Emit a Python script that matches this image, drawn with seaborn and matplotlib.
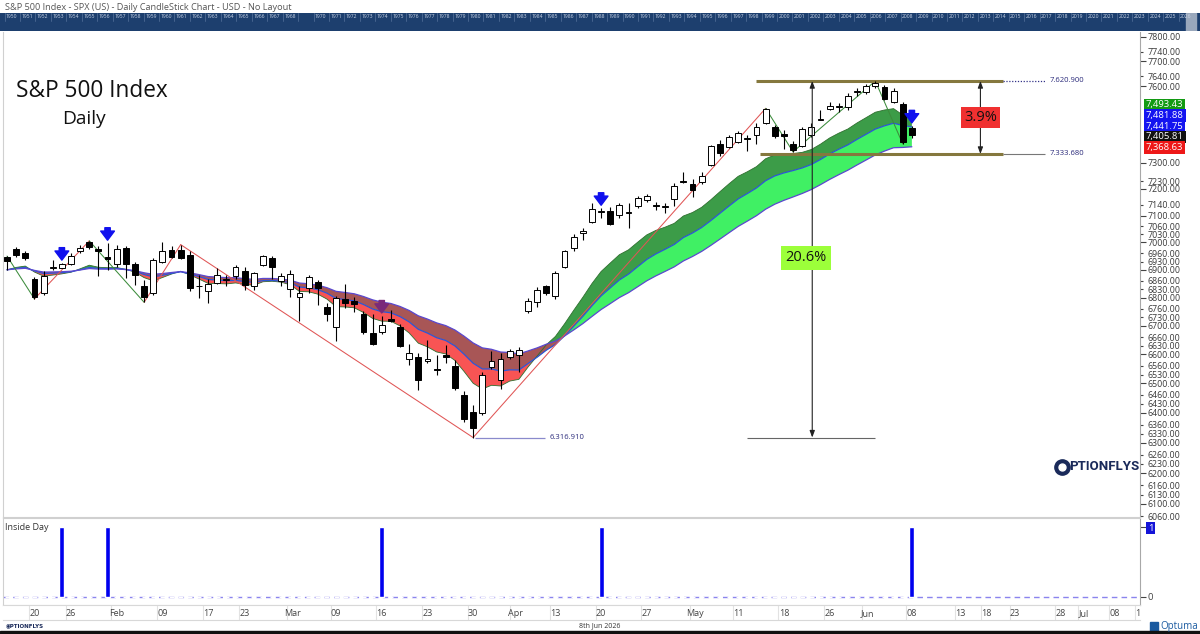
import numpy as np
import pandas as pd
import matplotlib
matplotlib.use("Agg")
import matplotlib.pyplot as plt
import seaborn as sns
from matplotlib.ticker import FixedLocator, FuncFormatter
from matplotlib.lines import Line2D
from matplotlib.patches import Rectangle

# ---------------- data ----------------
opens = [6945, 6976, 6961, 6867, 6815, 6908, 6908, 6922, 6967, 7001,
         6976, 6947, 6920, 6981, 6920, 6843, 6815, 6929, 6972, 6974,
         6955, 6843, 6822, 6853, 6863, 6877, 6897, 6841, 6918, 6943,
         6858, 6830, 6803, 6833, 6855, 6767, 6697, 6794, 6788, 6741,
         6675, 6677, 6723, 6697, 6585, 6592, 6578, 6550, 6598, 6560,
         6460, 6404, 6400, 6556, 6512, 6590, 6598, 6753, 6785, 6840,
         6805, 6909, 6979, 7036, 7077, 7112, 7118, 7101, 7108, 7134,
         7157, 7140, 7133, 7162, 7229, 7218, 7227, 7292, 7373, 7360,
         7382, 7393, 7408, 7454, 7440, 7410, 7373, 7365, 7408, 7467,
         7508, 7519, 7516, 7576, 7578, 7599, 7598, 7539, 7531, 7434]
highs = [6950, 6982, 6969, 6873, 6894, 6935, 6925, 6962, 6990, 7006,
         6988, 6998, 6992, 6988, 6928, 6863, 6943, 7000, 6986, 6992,
         6970, 6882, 6868, 6906, 6882, 6918, 6910, 6893, 6955, 6950,
         6890, 6900, 6840, 6881, 6863, 6780, 6805, 6848, 6803, 6752,
         6740, 6735, 6755, 6705, 6637, 6603, 6648, 6598, 6632, 6580,
         6472, 6426, 6537, 6612, 6603, 6620, 6626, 6797, 6838, 6846,
         6894, 6972, 7031, 7052, 7147, 7128, 7133, 7146, 7146, 7175,
         7180, 7149, 7147, 7223, 7265, 7238, 7265, 7370, 7386, 7409,
         7424, 7408, 7456, 7512, 7448, 7428, 7383, 7438, 7455, 7504,
         7538, 7534, 7571, 7592, 7609, 7620.9, 7605, 7592, 7538, 7444]
lows = [6900, 6948, 6935, 6795, 6810, 6898, 6905, 6918, 6960, 6975,
        6876, 6900, 6912, 6870, 6846, 6783, 6808, 6925, 6942, 6940,
        6824, 6798, 6780, 6848, 6843, 6868, 6826, 6826, 6915, 6867,
        6840, 6803, 6715, 6815, 6774, 6715, 6645, 6762, 6750, 6672,
        6631, 6672, 6714, 6626, 6562, 6478, 6568, 6528, 6570, 6478,
        6370, 6316.91, 6392, 6550, 6480, 6583, 6540, 6745, 6767, 6808,
        6794, 6905, 6970, 7010, 7073, 7090, 7063, 7092, 7053, 7127,
        7150, 7120, 7110, 7134, 7222, 7170, 7218, 7286, 7327, 7355,
        7376, 7344, 7373, 7452, 7395, 7353, 7342, 7360, 7400, 7465,
        7504, 7499, 7504, 7561, 7570, 7592, 7545, 7535, 7373, 7396]
closes = [6932, 6955, 6943, 6803, 6876, 6910, 6920, 6952, 6981, 6982,
          6968, 6940, 6977, 6920, 6882, 6803, 6936, 6967, 6946, 6943,
          6833, 6840, 6850, 6881, 6866, 6909, 6845, 6888, 6949, 6911,
          6877, 6884, 6817, 6873, 6836, 6741, 6797, 6782, 6776, 6677,
          6634, 6702, 6717, 6629, 6604, 6511, 6585, 6546, 6592, 6484,
          6380, 6350, 6528, 6578, 6585, 6613, 6616, 6788, 6827, 6815,
          6888, 6969, 7022, 7042, 7123, 7116, 7070, 7138, 7112, 7165,
          7174, 7136, 7137, 7210, 7226, 7197, 7250, 7365, 7338, 7399,
          7414, 7397, 7440, 7508, 7404, 7402, 7350, 7430, 7440, 7470,
          7520, 7522, 7562, 7579, 7601, 7612, 7551, 7582, 7382, 7405.81]

inside_day_idx = [6, 11, 41, 65, 99]

zigzag_idx = [0, 3, 9, 15, 19, 51, 83, 86, 95, 98]
zigzag_kind = ['H', 'L', 'H', 'L', 'H', 'L', 'H', 'L', 'H', 'L']
zigzag_colors = ['#3c8c3c', '#e05555', '#3c8c3c', '#e05555', '#e05555',
                 '#e05555', '#3c8c3c', '#3c8c3c', '#3c8c3c']

# ribbon: three EMAs of the daily lows
ema_fast_span, ema_mid_span, ema_slow_span = 10, 17, 28

date_tick_pos = [3, 7, 12, 17, 22, 26, 31.2, 36, 41, 46, 51, 55.6, 60, 65, 70,
                 75.3, 80, 85, 90, 94.1, 99, 104.3, 107.2, 110.3, 115.3, 117.8,
                 121.2, 124]
date_tick_labels = ['20', '26', 'Feb', '09', '17', '23', 'Mar', '09', '16', '23',
                    '30', 'Apr', '13', '20', '27', 'May', '11', '18', '26', 'Jun',
                    '08', '13', '18', '23', '28', 'Jul', '08', '13']

y_major = [7800, 7700, 7600, 7300, 7200, 7100, 7000, 6900, 6800,
           6700, 6600, 6500, 6400, 6300, 6200, 6100]
y_minor = [7740, 7640, 7230, 7140, 7060, 7030, 6960, 6930,
           6860, 6830, 6760, 6730, 6660, 6630, 6560, 6530, 6460, 6430, 6360,
           6330, 6260, 6230, 6160, 6130, 6060]

level_high = 7620.9
level_mid = 7333.68
level_low = 6316.91
pct_big = "20.6%"
pct_small = "3.9%"

box_values = [7493.43, 7481.88, 7441.75, 7405.81, 7368.63]
box_colors = ['#139a13', '#1414f0', '#1414f0', '#111111', '#ee1818']

header_title = "S&P 500 Index - SPX (US) - Daily CandleStick Chart - USD - No Layout"
years = list(range(1950, 2027))

# ---------------- figure ----------------
sns.set_theme(style="white")
plt.rcParams['font.family'] = ['Open Sans', 'DejaVu Sans']

W, H = 1200, 634
fig = plt.figure(figsize=(W / 100, H / 100), dpi=100)
fig.patch.set_facecolor('white')


def rect(x0, y0, x1, y1):
    return [x0 / W, 1 - y1 / H, (x1 - x0) / W, (y1 - y0) / H]


def fx(x):
    return x / W


def fy(y):
    return 1 - y / H


XLIM = (-0.44, 123.96)

o = np.array(opens, float)
h = np.array(highs, float)
l = np.array(lows, float)
c = np.array(closes, float)
idx = np.arange(len(c))

# ---------------- main price panel ----------------
ax = fig.add_axes(rect(3, 32, 1140, 517))
ax.set_facecolor('white')
ax.set_yscale('log')
ax.set_xlim(*XLIM)
ax.set_ylim(6058.2, 7820)

low_s = pd.Series(l)
ema_a = low_s.ewm(span=ema_fast_span, adjust=False).mean().to_numpy()
ema_b = low_s.ewm(span=ema_mid_span, adjust=False).mean().to_numpy()
ema_c = low_s.ewm(span=ema_slow_span, adjust=False).mean().to_numpy()

ax.fill_between(idx, ema_a, ema_b, where=ema_a >= ema_b, interpolate=True,
                color='#3c9c48', lw=0, zorder=1)
ax.fill_between(idx, ema_a, ema_b, where=ema_a < ema_b, interpolate=True,
                color='#f85454', lw=0, zorder=1)
ax.fill_between(idx, ema_b, ema_c, where=ema_b >= ema_c, interpolate=True,
                color='#40f064', lw=0, zorder=1)
ax.fill_between(idx, ema_b, ema_c, where=ema_b < ema_c, interpolate=True,
                color='#a85656', lw=0, zorder=1)
sns.lineplot(x=idx, y=ema_a, ax=ax, color='#2f6f2f', linewidth=0.6, zorder=1.2)
sns.lineplot(x=idx, y=ema_b, ax=ax, color='#2c55d6', linewidth=0.9, zorder=1.2)
sns.lineplot(x=idx, y=ema_c, ax=ax, color='#5a48cf', linewidth=0.9, zorder=1.2)

# zigzag
zz_vals = [h[i] if k == 'H' else l[i] for i, k in zip(zigzag_idx, zigzag_kind)]
for k in range(len(zigzag_idx) - 1):
    ax.plot(zigzag_idx[k:k + 2], zz_vals[k:k + 2], color=zigzag_colors[k],
            lw=0.75, zorder=1.6)

# candles
up = c >= o
body_lo = np.minimum(o, c)
body_h = np.maximum(np.abs(c - o), 0.5)
ax.vlines(idx, l, h, color='black', lw=0.8, zorder=2.5)
ax.bar(idx, body_h, bottom=body_lo, width=0.64,
       color=np.where(up, 'white', 'black'), edgecolor='black',
       linewidth=0.7, zorder=3)

# inside-day arrows
for i in inside_day_idx:
    col = '#7a2a7a' if i == 41 else '#1010ee'
    ax.annotate('', xy=(i, h[i]), xytext=(0, 11), textcoords='offset points',
                arrowprops=dict(arrowstyle='simple,head_length=0.6,head_width=0.9,tail_width=0.35',
                                fc=col, ec=col, shrinkA=0, shrinkB=2, mutation_scale=11),
                zorder=4)

# level lines
ax.hlines(level_high, 82, 109, color='#85783e', lw=2.2, zorder=2)
ax.hlines(level_high, 109, 113.6, color='#333388', lw=0.9, ls=(0, (1, 1.3)), zorder=2)
ax.text(114.1, level_high, "7.620.900", fontsize=5.5, color='#2a2a7a', va='center', ha='left')
ax.hlines(level_mid, 82.4, 109, color='#85783e', lw=2.2, zorder=2)
ax.hlines(level_mid, 109, 113.6, color='#777777', lw=0.8, zorder=2)
ax.text(114.1, level_mid, "7.333.680", fontsize=5.5, color='#2a2a7a', va='center', ha='left')
ax.hlines(level_low, 51.2, 58.9, color='#8a8acc', lw=0.9, zorder=2)
ax.text(59.4, level_low, "6.316.910", fontsize=5.5, color='#2a2a7a', va='center', ha='left')
ax.hlines(level_low, 81, 95, color='#666666', lw=0.8, zorder=2)

arrow_kw = dict(arrowstyle='<|-|>,head_length=0.4,head_width=0.15', color='#222222',
                lw=0.8, shrinkA=0, shrinkB=0, mutation_scale=10)
ax.annotate('', xy=(88.1, level_high), xytext=(88.1, level_low), arrowprops=arrow_kw, zorder=4)
ax.annotate('', xy=(106.5, level_high), xytext=(106.5, level_mid), arrowprops=arrow_kw, zorder=4)
ax.text(87.4, 6943, pct_big, ha='center', va='center', fontsize=10.5, color='#111111',
        bbox=dict(boxstyle='square,pad=0.28', fc='#9cff3a', ec='none'), zorder=5)
ax.text(106.5, 7477, pct_small, ha='center', va='center', fontsize=10.5, color='#111111',
        bbox=dict(boxstyle='square,pad=0.2', fc='#f03030', ec='none'), zorder=5)

# titles
ax.text(0.011, 0.878, "S&P 500 Index", transform=ax.transAxes, fontsize=16.3,
        color='#111111', ha='left', va='center')
ax.text(0.052, 0.82, "Daily", transform=ax.transAxes, fontsize=13.8,
        color='#111111', ha='left', va='center')

# y axis (right)
fmt = FuncFormatter(lambda v, p: f"{v:.2f}")
ax.yaxis.tick_right()
ax.yaxis.set_major_locator(FixedLocator(y_major))
ax.yaxis.set_minor_locator(FixedLocator(y_minor))
ax.yaxis.set_major_formatter(fmt)
ax.yaxis.set_minor_formatter(fmt)
ax.tick_params(axis='y', which='major', length=4, width=0.8, colors='#444444',
               labelsize=6.4, pad=1.5, labelcolor='#3a3a3a')
ax.tick_params(axis='y', which='minor', length=2, width=0.8, colors='#444444',
               labelsize=6.4, pad=3.5, labelcolor='#3a3a3a')
ax.set_xticks([])
ax.set_ylabel('')
for side, col in [('left', '#d0d0d0'), ('bottom', '#d0d0d0'), ('right', '#a8a8a8')]:
    ax.spines[side].set_color(col)
    ax.spines[side].set_linewidth(0.8)
ax.spines['top'].set_visible(False)

# value boxes on the right
ax.figure.canvas.draw()
mid_disp = ax.transData.transform((0, box_values[2]))[1]
for k, (v, col) in enumerate(zip(box_values, box_colors)):
    yd = mid_disp - (k - 2) * 10.6
    fig.text(fx(1146), yd / H, f"{v:,.2f}", color='white', fontsize=6.8, ha='left',
             va='center', bbox=dict(boxstyle='square,pad=0.18', fc=col, ec='none'))

# OPTIONFLYS logo
fig.add_artist(Line2D([fx(1062)], [fy(467)], marker='o', ms=11, mfc='#1a2a5a',
                      mec='#1a2a5a', transform=fig.transFigure))
fig.add_artist(Line2D([fx(1062)], [fy(467)], marker='o', ms=5, mfc='white',
                      mec='white', transform=fig.transFigure))
fig.text(fx(1069), fy(467), "PTIONFLYS", fontsize=9.5, fontweight='bold',
         color='#1a2a5a', ha='left', va='center', family=['Roboto', 'DejaVu Sans'])

# ---------------- inside-day panel ----------------
ax2 = fig.add_axes(rect(3, 518, 1140, 605))
ax2.set_xlim(*XLIM)
ax2.set_ylim(-0.1143, 1.1286)
inside = np.zeros(len(c))
inside[inside_day_idx] = 1
ax2.bar(idx, inside, width=0.55, color='#0000ee', zorder=3)
ax2.axhline(0, color='#8a84ee', lw=1, ls=(0, (4, 3)), zorder=2)
ax2.set_xticks([])
ax2.yaxis.tick_right()
ax2.set_yticks([0, 1])
ax2.set_yticklabels(['0', '1'])
ax2.tick_params(axis='y', length=4, width=0.8, colors='#444444', labelsize=6.8, pad=1.5)
lab1 = ax2.get_yticklabels()[1]
lab1.set_color('white')
lab1.set_bbox(dict(boxstyle='square,pad=0.15', fc='#1414d8', ec='none'))
for side, col in [('left', '#d0d0d0'), ('bottom', '#d0d0d0'), ('top', '#d0d0d0'),
                  ('right', '#a8a8a8')]:
    ax2.spines[side].set_color(col)
    ax2.spines[side].set_linewidth(0.8)
ax2.text(0.002, 0.94, "Inside Day", transform=ax2.transAxes, fontsize=6.5,
         color='#333333', ha='left', va='top')

# ---------------- date strip ----------------
ax3 = fig.add_axes(rect(3, 605, 1140, 620))
ax3.set_xlim(*XLIM)
ax3.set_ylim(0, 1)
ax3.set_xticks([])
ax3.set_yticks([])
for p, t in zip(date_tick_pos, date_tick_labels):
    ax3.axvline(p - 0.6, color='#e2e2e2', lw=0.8)
    ax3.text(p, 0.45, t, ha='center', va='center', fontsize=6.5, color='#444444',
             clip_on=True)
for side in ['left', 'right']:
    ax3.spines[side].set_visible(False)
for side in ['top', 'bottom']:
    ax3.spines[side].set_color('#d8d8d8')
    ax3.spines[side].set_linewidth(0.8)

# ---------------- header ----------------
fig.text(fx(5), fy(7), header_title, fontsize=6.6, color='#555555', ha='left', va='center')
hdr = fig.add_axes(rect(0, 13, 1200, 31))
hdr.set_facecolor('#1d3f6e')
hdr.set_xlim(0, 1200)
hdr.set_ylim(0, 1)
hdr.set_xticks([])
hdr.set_yticks([])
for sp in hdr.spines.values():
    sp.set_visible(False)
for yr in years:
    xp = 6 + (yr - 1950) * 15.45
    hdr.axvline(xp - 1.5, ymin=0.55, ymax=1, color='#4c6a94', lw=0.6)
    if yr != 1969:
        hdr.text(xp, 0.78, str(yr), fontsize=3.6, color='#c9d4e6', ha='left',
                 va='center', clip_on=True)
hdr.add_patch(Rectangle((1186, 0), 10, 1, color='#9aa8bc'))

# ---------------- footer ----------------
fig.text(fx(600), fy(626), "8th Jun 2026", fontsize=5, color='#333333', ha='center', va='center')
fig.text(fx(6), fy(626), "\u25C9PTIONFLYS", fontsize=4, color='#1a2a5a', ha='left',
         va='center', fontweight='bold', family=['DejaVu Sans'])
fig.add_artist(Rectangle((fx(1150), fy(631)), 8 / W, 9 / H, transform=fig.transFigure,
                         color='#1a5aa0'))
fig.text(fx(1160), fy(626), "Optuma", fontsize=7, color='#1a5aa0', ha='left', va='center')
fig.add_artist(Rectangle((0, 0), 1, 3 / H, transform=fig.transFigure, color='#111111'))

fig.savefig("out.png", dpi=100)
